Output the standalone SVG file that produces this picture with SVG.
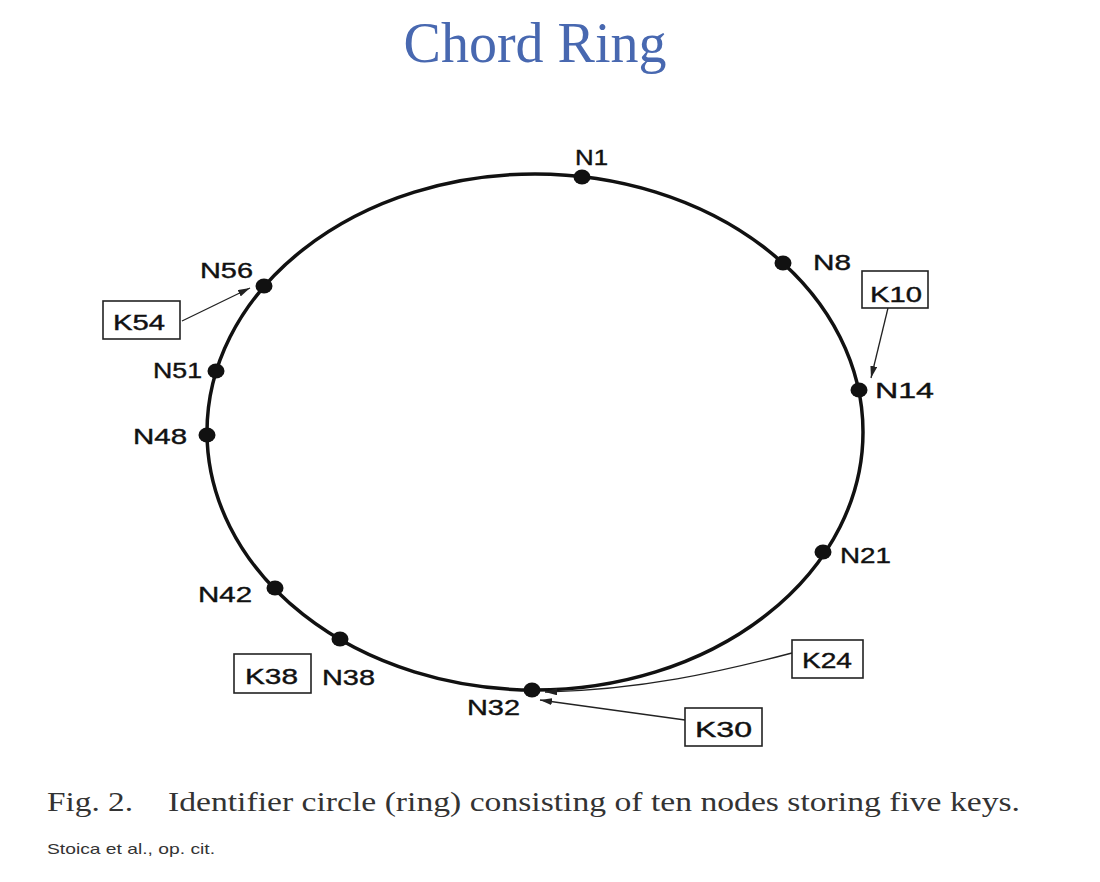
<svg xmlns="http://www.w3.org/2000/svg" width="1100" height="882" viewBox="0 0 1100 882">
<defs>
<style>
.lbl{font-family:"Liberation Sans",Arial,sans-serif;font-size:22px;fill:#111;stroke:#111;stroke-width:0.4}
.box{fill:#fff;stroke:#222;stroke-width:1.6}
.dot{fill:#111}
.conn{fill:none;stroke:#222;stroke-width:1.3}
</style>
<marker id="ah" markerUnits="userSpaceOnUse" markerWidth="13" markerHeight="7" refX="12" refY="3.5" orient="auto">
<path d="M0,0 L12,3.5 L0,7 z" fill="#222"/>
</marker>
</defs>
<rect width="1100" height="882" fill="#fff"/>
<text x="535" y="62" text-anchor="middle" font-family="'Liberation Serif','Times New Roman',serif" font-size="56" fill="#4868b0">Chord Ring</text>
<g id="ring"><ellipse cx="535" cy="432" rx="328" ry="258" fill="none" stroke="#111" stroke-width="3.5"/></g>
<g id="connectors">
<line class="conn" x1="888" y1="308" x2="871" y2="378" marker-end="url(#ah)"/>
<line class="conn" x1="182" y1="321" x2="250" y2="288" marker-end="url(#ah)"/>
<line class="conn" x1="685" y1="720" x2="540" y2="700" marker-end="url(#ah)"/>
<path class="conn" d="M792,653 C720,672 640,690 545,692" marker-end="url(#ah)"/>
</g>
<g id="N1"><ellipse class="dot" cx="582" cy="177" rx="8.5" ry="7.5"/><text class="lbl" x="575" y="165" textLength="33" lengthAdjust="spacingAndGlyphs">N1</text></g>
<g id="N8"><ellipse class="dot" cx="783" cy="263" rx="8.5" ry="7.5"/><text class="lbl" x="813" y="270" textLength="38" lengthAdjust="spacingAndGlyphs">N8</text></g>
<g id="N14"><ellipse class="dot" cx="859" cy="390" rx="8.5" ry="7.5"/><text class="lbl" x="875" y="398" textLength="59" lengthAdjust="spacingAndGlyphs">N14</text></g>
<g id="N21"><ellipse class="dot" cx="823" cy="552" rx="8.5" ry="7.5"/><text class="lbl" x="840" y="563" textLength="51" lengthAdjust="spacingAndGlyphs">N21</text></g>
<g id="N32"><ellipse class="dot" cx="532" cy="690" rx="8.5" ry="7.5"/><text class="lbl" x="467" y="715" textLength="53" lengthAdjust="spacingAndGlyphs">N32</text></g>
<g id="N38"><ellipse class="dot" cx="340" cy="639" rx="8.5" ry="7.5"/><text class="lbl" x="322" y="685" textLength="53" lengthAdjust="spacingAndGlyphs">N38</text></g>
<g id="N42"><ellipse class="dot" cx="275" cy="588" rx="8.5" ry="7.5"/><text class="lbl" x="198" y="602" textLength="54" lengthAdjust="spacingAndGlyphs">N42</text></g>
<g id="N48"><ellipse class="dot" cx="207" cy="435" rx="8.5" ry="7.5"/><text class="lbl" x="133" y="444" textLength="54" lengthAdjust="spacingAndGlyphs">N48</text></g>
<g id="N51"><ellipse class="dot" cx="216" cy="371" rx="8.5" ry="7.5"/><text class="lbl" x="153" y="378" textLength="49" lengthAdjust="spacingAndGlyphs">N51</text></g>
<g id="N56"><ellipse class="dot" cx="264" cy="286" rx="8.5" ry="7.5"/><text class="lbl" x="200" y="278" textLength="53" lengthAdjust="spacingAndGlyphs">N56</text></g>
<g id="K10"><rect class="box" x="862" y="271" width="66" height="37"/><text class="lbl" x="870" y="302" textLength="52" lengthAdjust="spacingAndGlyphs">K10</text></g>
<g id="K54"><rect class="box" x="103" y="301" width="77" height="38"/><text class="lbl" x="113" y="330" textLength="52" lengthAdjust="spacingAndGlyphs">K54</text></g>
<g id="K38"><rect class="box" x="234" y="654" width="77" height="39"/><text class="lbl" x="245" y="684" textLength="53" lengthAdjust="spacingAndGlyphs">K38</text></g>
<g id="K24"><rect class="box" x="792" y="640" width="71" height="38"/><text class="lbl" x="802" y="668" textLength="50" lengthAdjust="spacingAndGlyphs">K24</text></g>
<g id="K30"><rect class="box" x="685" y="708" width="77" height="38"/><text class="lbl" x="695" y="737" textLength="57" lengthAdjust="spacingAndGlyphs">K30</text></g>
<g id="caption" font-family="'Liberation Serif','Times New Roman',serif" font-size="28" fill="#333">
<text x="47" y="811" textLength="86" lengthAdjust="spacingAndGlyphs">Fig. 2.</text>
<text x="168" y="811" textLength="852" lengthAdjust="spacingAndGlyphs">Identifier circle (ring) consisting of ten nodes storing five keys.</text>
</g>
<text x="47" y="854" font-family="'Liberation Sans',Arial,sans-serif" font-size="15" fill="#333" textLength="168" lengthAdjust="spacingAndGlyphs">Stoica et al., op. cit.</text>
</svg>
